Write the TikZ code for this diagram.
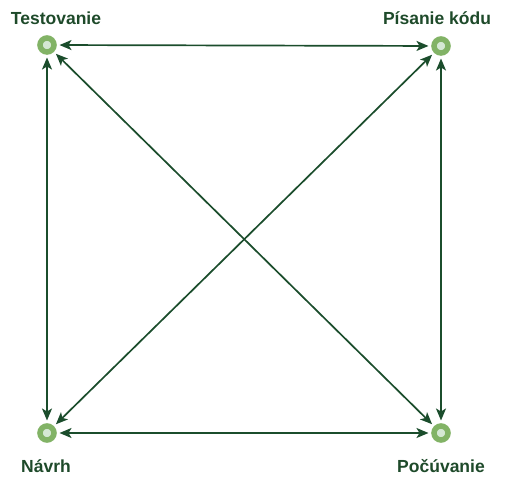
\documentclass[tikz,border=0pt]{standalone}
\usepackage{fontspec}
\setmainfont{Liberation Sans}
\usetikzlibrary{arrows.meta}
\definecolor{edgegreen}{HTML}{1B4D2C}
\definecolor{txtgreen}{HTML}{1E4A2A}
\definecolor{ringgreen}{HTML}{82B366}
\definecolor{fillgreen}{HTML}{D5E8D4}
\tikzset{
  dot/.style={circle, draw=ringgreen, fill=fillgreen, line width=5.5pt, minimum size=14pt, inner sep=0pt, outer sep=5.5pt},
  lbl/.style={text=txtgreen, font=\bfseries\fontsize{17.5}{20}\selectfont, inner sep=0pt},
  link/.style={draw=edgegreen, line width=1.7pt, {Stealth[length=12pt,width=10pt,inset=3pt]}-{Stealth[length=12pt,width=10pt,inset=3pt]}}
}
\begin{document}
\begin{tikzpicture}[x=1pt,y=1pt]
\useasboundingbox (0,0) rectangle (509,477);
\node[dot] (T) at (47,432) {};
\node[dot] (P) at (441,431) {};
\node[dot] (N) at (47,44) {};
\node[dot] (C) at (441,44) {};
\node[lbl] (tT) at (56,459) {Testovanie};
\node[lbl] (tP) at (437,459) {Písanie kódu};
\node[lbl] (tN) at (46,11) {Návrh};
\node[lbl] (tC) at (441,11) {Počúvanie};
\draw[link] (T) -- (P);
\draw[link] (N) -- (C);
\draw[link] (T) -- (N);
\draw[link] (P) -- (C);
\draw[link] (T) -- (C);
\draw[link] (P) -- (N);
\end{tikzpicture}
\end{document}
